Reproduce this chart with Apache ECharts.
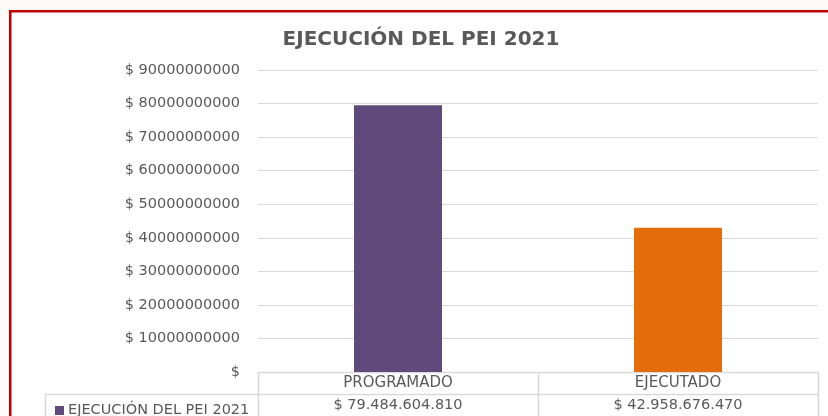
<!DOCTYPE html>
<html>
<head>
    <meta charset="utf-8">
    <title>ECharts</title>
    <script src="https://cdn.jsdelivr.net/npm/echarts@6/dist/echarts.min.js"></script>
    <style>
        html, body { margin: 0; padding: 0; background: #fbfaf8; overflow: hidden; }
    </style>
</head>
<body>
<div id="main" style="width: 828px;height:416px;"></div>
<script type="text/javascript">
    var titulo = 'EJECUCIÓN DEL PEI 2021';
    var categorias = ['PROGRAMADO', 'EJECUTADO'];
    var valores = [79484604810, 42958676470];
    var colores = ['#604a7b', '#e46c0a'];
    var ejeMax = 90000000000;
    var ejeIntervalo = 10000000000;

    // formato con puntos de miles
    function pesos(v) {
        return '$ ' + String(v).replace(/\B(?=(\d{3})+(?!\d))/g, '.');
    }

    var fuente = '"DejaVu Sans", sans-serif';
    var gris = '#595959';
    var linea = '#d9d9d9';

    var myChart = echarts.init(document.getElementById('main'));

    var option = {
        backgroundColor: '#fbfaf8',
        textStyle: { fontFamily: fuente },
        title: {
            text: titulo,
            left: 416,
            top: 25,
            textAlign: 'center',
            textStyle: { color: gris, fontSize: 20, fontWeight: 'bold', fontFamily: fuente }
        },
        legend: {
            data: [titulo],
            left: 50,
            top: 398,
            itemWidth: 9,
            itemHeight: 9,
            itemGap: 6,
            icon: 'rect',
            selectedMode: false,
            itemStyle: { color: colores[0] },
            textStyle: { color: gris, fontSize: 14.5, fontFamily: fuente, padding: [0, 0, 0, -1] }
        },
        grid: {
            left: 258,
            right: 10,
            top: 70,
            bottom: 44
        },
        xAxis: [
            {
                type: 'category',
                data: categorias,
                axisLine: { show: false },
                axisTick: { show: false },
                axisLabel: { color: gris, fontSize: 15, margin: 4, fontFamily: fuente }
            },
            {
                type: 'category',
                position: 'bottom',
                offset: 22,
                data: valores.map(pesos),
                axisLine: { show: false },
                axisTick: { show: false },
                axisLabel: { color: gris, fontSize: 14.5, margin: 4, fontFamily: fuente }
            }
        ],
        yAxis: {
            type: 'value',
            min: 0,
            max: ejeMax,
            interval: ejeIntervalo,
            axisLine: { show: false },
            axisTick: { show: false },
            splitLine: { lineStyle: { color: linea, width: 1 } },
            axisLabel: {
                color: gris,
                fontSize: 14.5,
                margin: 18,
                fontFamily: fuente,
                formatter: function (v) { return v === 0 ? '$' : '$ ' + v; }
            }
        },
        series: [
            {
                name: titulo,
                type: 'bar',
                barWidth: 88,
                data: valores.map(function (v, i) {
                    return { value: v, itemStyle: { color: colores[i] } };
                })
            }
        ],
        graphic: [
            // fondo blanco y borde rojo (arriba e izquierda)
            { type: 'rect', z: -10, shape: { x: 10, y: 11, width: 818, height: 405 },
              style: { fill: '#ffffff' } },
            { type: 'rect', shape: { x: 9, y: 10, width: 819, height: 2.5 }, style: { fill: '#c00000' } },
            { type: 'rect', shape: { x: 9, y: 10, width: 2.5, height: 406 }, style: { fill: '#c00000' } },
            // tabla de datos
            { type: 'line', shape: { x1: 258, y1: 372.5, x2: 818, y2: 372.5 }, style: { stroke: linea, lineWidth: 1.5 } },
            { type: 'line', shape: { x1: 45, y1: 394.5, x2: 818, y2: 394.5 }, style: { stroke: linea, lineWidth: 1.5 } },
            { type: 'line', shape: { x1: 258.5, y1: 372, x2: 258.5, y2: 416 }, style: { stroke: linea, lineWidth: 1.5 } },
            { type: 'line', shape: { x1: 538.5, y1: 372, x2: 538.5, y2: 416 }, style: { stroke: linea, lineWidth: 1.5 } },
            { type: 'line', shape: { x1: 818.5, y1: 372, x2: 818.5, y2: 416 }, style: { stroke: linea, lineWidth: 1.5 } },
            { type: 'line', shape: { x1: 45.5, y1: 394, x2: 45.5, y2: 416 }, style: { stroke: linea, lineWidth: 1.5 } }
        ]
    };

    myChart.setOption(option);
</script>
</body>
</html>
